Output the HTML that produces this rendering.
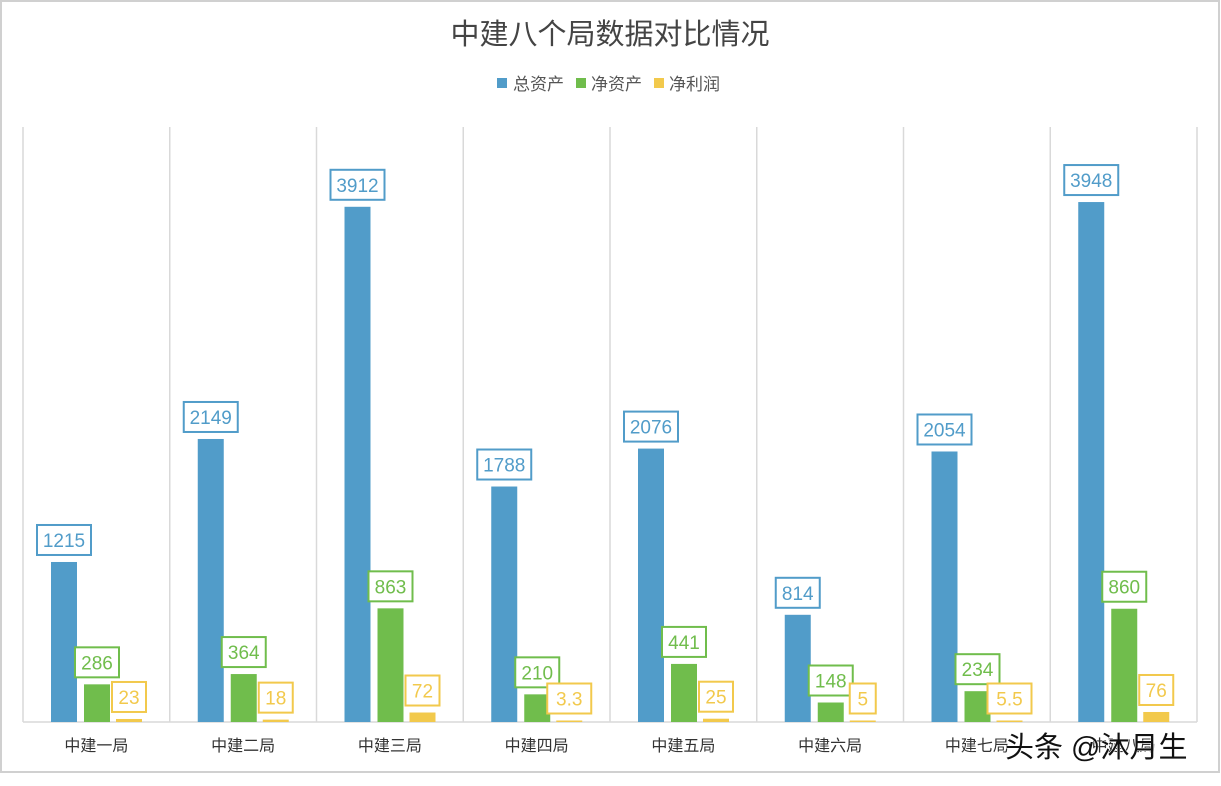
<!DOCTYPE html>
<html><head><meta charset="utf-8">
<style>
html,body{margin:0;padding:0;background:#fff;}
svg{display:block;font-family:"Liberation Sans","Noto Sans CJK SC",sans-serif;}
</style></head>
<body>
<svg id="c" width="1221" height="786" viewBox="0 0 1221 786" xmlns="http://www.w3.org/2000/svg">
<rect x="1" y="1" width="1218" height="771" fill="#fff" stroke="#d0d0d0" stroke-width="2"/>
<text x="610" y="44" text-anchor="middle" font-size="29" fill="#444">中建八个局数据对比情况</text>
<rect x="497" y="78" width="10" height="10" fill="#519cc9"/>
<text x="513" y="90" font-size="17" fill="#555">总资产</text>
<rect x="576" y="78" width="10" height="10" fill="#70bd4c"/>
<text x="591" y="90" font-size="17" fill="#555">净资产</text>
<rect x="654" y="78" width="10" height="10" fill="#f2c94c"/>
<text x="669" y="90" font-size="17" fill="#555">净利润</text>
<g id="g"></g>
</svg>
<script>
(function(){
var names=["中建一局","中建二局","中建三局","中建四局","中建五局","中建六局","中建七局","中建八局"];
var d=[[1215,286,23],[2149,364,18],[3912,863,72],[1788,210,3.3],[2076,441,25],[814,148,5],[2054,234,5.5],[3948,860,76]];
var cols=["#519cc9","#70bd4c","#f2c94c"];
var s="";
var base=722,k=0.1317;
for(var i=0;i<=8;i++){var x=23+146.75*i;s+='<line x1="'+x+'" y1="127" x2="'+x+'" y2="'+base+'" stroke="#d9d9d9" stroke-width="1.5"/>';}
s+='<line x1="23" y1="'+base+'" x2="1197" y2="'+base+'" stroke="#d9d9d9" stroke-width="1.5"/>';
for(var i=0;i<8;i++){
 var g=23+146.75*i;
 var offs=[28,61,93];
 for(var j=0;j<3;j++){
  var v=d[i][j],h=Math.max(v*k,1.5),x=g+offs[j],w=26,ty=base-h;
  s+='<rect x="'+x+'" y="'+ty+'" width="'+w+'" height="'+h+'" fill="'+cols[j]+'"/>';
  var t=String(v),bw=t.length>=4?54:(t.length==3?44:(t.length==2?34:26));
  var cx=x+w/2,by=ty-7-30;
  s+='<rect x="'+(cx-bw/2)+'" y="'+by+'" width="'+bw+'" height="30" fill="#fff" stroke="'+cols[j]+'" stroke-width="2"/>';
  s+='<text x="'+cx+'" y="'+(by+22)+'" text-anchor="middle" font-size="19" fill="'+cols[j]+'">'+t+'</text>';
 }
 s+='<text x="'+(g+73.4)+'" y="751" text-anchor="middle" font-size="16" fill="#333">'+names[i]+'</text>';
}
s+='<text x="1005" y="757" font-size="29" fill="#111" stroke="#fff" stroke-width="1" paint-order="stroke">头条 @沐月生</text>';
document.getElementById("g").innerHTML=s;
})();
</script>
</body></html>
